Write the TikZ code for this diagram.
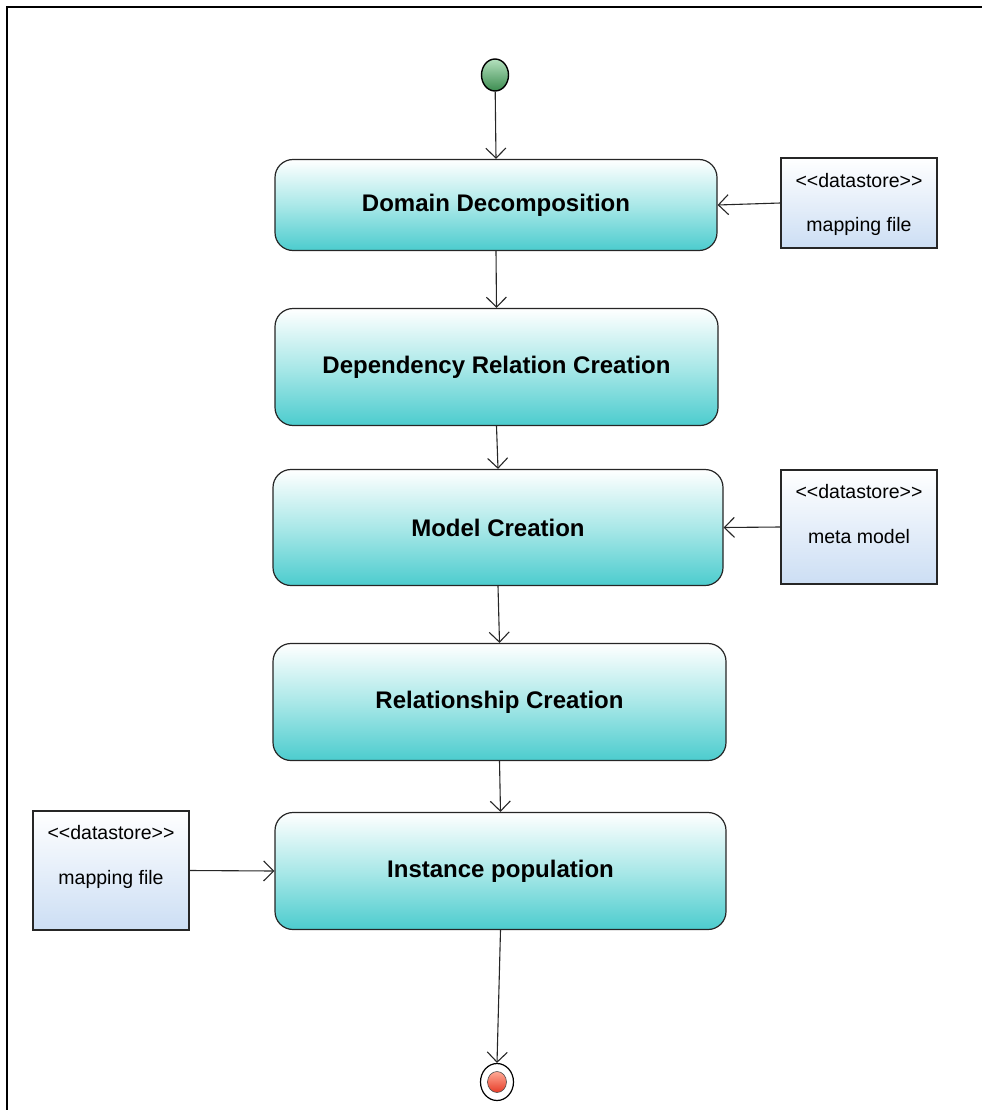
\documentclass[tikz,border=0pt]{standalone}
\usepackage{fontspec}
\setmainfont{Liberation Sans}[Ligatures=NoCommon]
\usetikzlibrary{arrows.meta,shapes.geometric,calc}
\definecolor{actteal}{RGB}{76,204,206}
\definecolor{acttealmid}{RGB}{170,232,232}
\definecolor{storeblue}{RGB}{204,222,244}
\definecolor{startgreen}{RGB}{60,140,80}
\definecolor{startlight}{RGB}{180,225,190}
\definecolor{endred}{RGB}{230,60,40}
\definecolor{endlight}{RGB}{255,170,150}
\newcommand{\stereo}{<\kern0pt<datastore>\kern0pt>}
\tikzset{
  activity/.style={draw=black!85, line width=1.2pt, rounded corners=18pt,
    top color=white, bottom color=actteal, middle color=acttealmid,
    font=\fontsize{24}{28}\selectfont\bfseries, align=center, inner sep=0pt},
  store/.style={draw=black!85, line width=1.2pt, top color=white, bottom color=storeblue,
    inner sep=0pt, minimum width=156pt},
  storetext/.style={font=\fontsize{19.5}{23}\selectfont, inner sep=0pt, anchor=center},
  flow/.style={line width=1.1pt, draw=black!85,
    -{Straight Barb[length=10pt,width=20pt,line width=1.1pt]}},
}
\begin{document}
\begin{tikzpicture}[x=1pt,y=-1pt]
  \useasboundingbox (0,0) rectangle (982,1110);
  % frame (top and left edges)
  \draw[line width=2pt] (7,1110) -- (7,7) -- (982,7);

  % initial node
  \node[ellipse, draw=black, line width=1.4pt, minimum width=27pt, minimum height=32pt,
        inner sep=0pt, top color=startlight, bottom color=startgreen] (start) at (495,75) {};

  % activities
  \node[activity, minimum width=442pt, minimum height=91pt] (dd) at (496,205) {Domain Decomposition};
  \node[activity, minimum width=443pt, minimum height=117pt] (drc) at (496.5,367) {Dependency Relation Creation};
  \node[activity, minimum width=450pt, minimum height=116pt] (mc) at (498,527.5) {Model Creation};
  \node[activity, minimum width=453pt, minimum height=117pt] (rc) at (499.5,702) {Relationship Creation};
  \node[activity, minimum width=451pt, minimum height=117pt] (ip) at (500.5,871) {Instance population};

  % data stores
  \node[store, minimum height=90pt] (ds1) at (859,203) {};
  \node[storetext] (ds1a) at ($(ds1.north)+(0,23)$) {\stereo};
  \node[storetext] (ds1b) at ($(ds1.north)+(0,69)$) {mapping file};
  \node[store, minimum height=114pt] (ds2) at (859,527) {};
  \node[storetext] (ds2a) at ($(ds2.north)+(0,22)$) {\stereo};
  \node[storetext] (ds2b) at ($(ds2.north)+(0,67)$) {meta model};
  \node[store, minimum height=119pt] (ds3) at (111,870.5) {};
  \node[storetext] (ds3a) at ($(ds3.north)+(0,22)$) {\stereo};
  \node[storetext] (ds3b) at ($(ds3.north)+(0,69)$) {mapping file};

  % final node
  \node[ellipse, draw=black, line width=1.2pt, minimum width=33pt, minimum height=37pt, inner sep=0pt, fill=white] (end) at (497,1082) {};
  \node[ellipse, draw=black!70, line width=0.6pt, minimum width=19pt, minimum height=21pt, inner sep=0pt,
        top color=endlight, bottom color=endred] (endcore) at (end.center) {};

  % control flow
  \draw[flow] (start) -- (dd.north);
  \draw[flow] (dd.south) -- (drc.north);
  \draw[flow] (drc.south) -- (mc.north);
  \draw[flow] (mc.south) -- (rc.north);
  \draw[flow] (rc.south) -- (ip.north);
  \draw[flow] (ip.south) -- (end.north);

  % object flow from data stores
  \draw[flow] (ds1.west) -- (dd.east);
  \draw[flow] (ds2.west) -- (mc.east);
  \draw[flow] (ds3.east) -- (ip.west);
\end{tikzpicture}
\end{document}
